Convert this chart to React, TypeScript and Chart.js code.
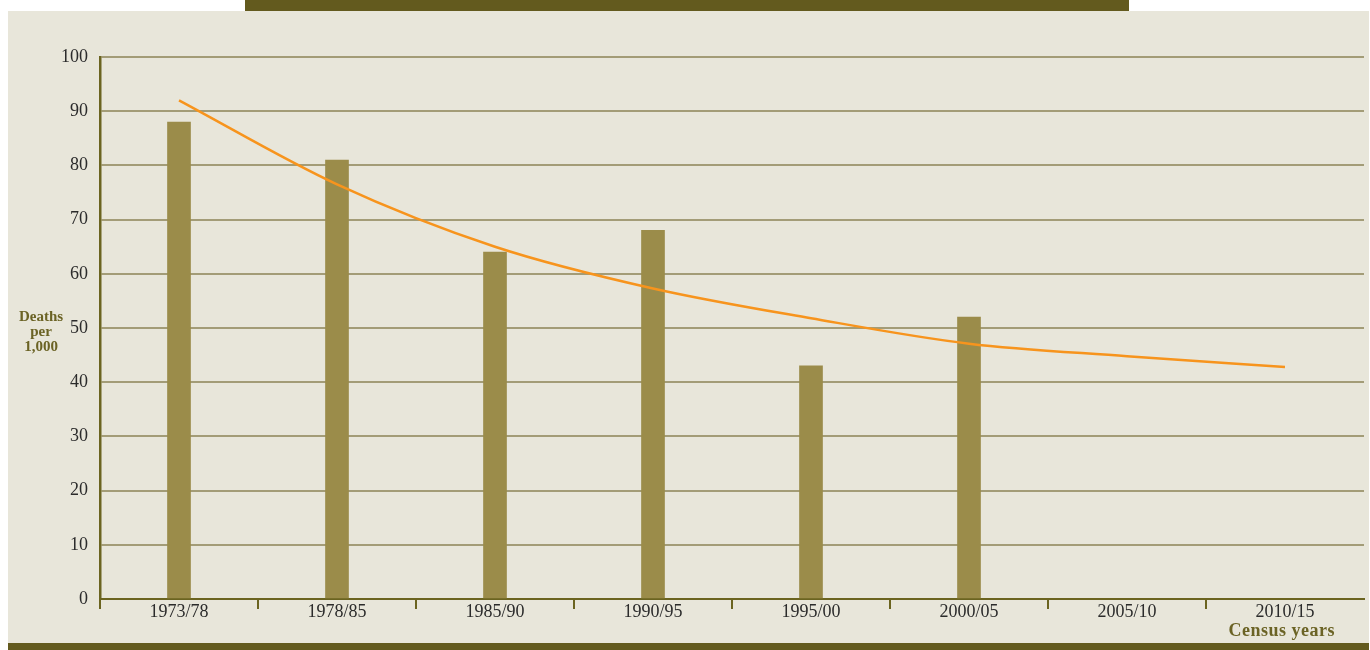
import React, { useEffect, useRef } from "react";
import { Chart, registerables } from "chart.js";

Chart.register(...registerables);

const categories = ["1973/78", "1978/85", "1985/90", "1990/95", "1995/00", "2000/05", "2005/10", "2010/15"];
const deathRates = [88, 81, 64, 68, 43, 52, null, null];
const trendValues = [92, 76.5, 65, 57.3, 51.8, 47.1, 44.8, 42.8];
const yMin = 0;
const yMax = 100;
const yStep = 10;

const OLIVE_DARK = "#635a1e";
const PANEL = "#e8e6da";
const BAR = "#9b8c4a";
const GRID = "#a39c77";
const AXIS = "#6b6420";
const ORANGE = "#f7941d";
const TEXT = "#2b2b2b";
const LABEL = "#6b6325";
const FONT = "'Liberation Serif', 'Times New Roman', serif";

export default function App() {
  const canvasRef = useRef<HTMLCanvasElement | null>(null);

  useEffect(() => {
    const canvas = canvasRef.current;
    if (!canvas) return;
    const chart = new Chart(canvas, {
      type: "bar",
      data: {
        labels: categories,
        datasets: [
          {
            type: "line",
            label: "Trend",
            data: trendValues,
            borderColor: ORANGE,
            borderWidth: 2.5,
            pointRadius: 0,
            fill: false,
            cubicInterpolationMode: "monotone",
            order: 0,
          } as any,
          {
            type: "bar",
            label: "Deaths per 1,000",
            data: deathRates,
            backgroundColor: BAR,
            barThickness: 23,
            order: 1,
          } as any,
        ],
      },
      options: {
        responsive: false,
        animation: false,
        layout: { padding: { left: 0, right: 6, top: 57, bottom: 0 } },
        plugins: {
          legend: { display: false },
          tooltip: { enabled: false },
          title: { display: false },
        },
        scales: {
          x: {
            offset: true,
            grid: {
              display: true,
              offset: true,
              drawOnChartArea: false,
              drawTicks: true,
              tickLength: 10,
              lineWidth: 2,
              color: (ctx: any) => (ctx.type === "tick" ? AXIS : "rgba(0,0,0,0)"),
            },
            border: { display: true, color: AXIS, width: 2 },
            ticks: {
              color: TEXT,
              font: { family: FONT, size: 18 },
              padding: -8,
              maxRotation: 0,
              autoSkip: false,
            },
            afterFit: (scale: any) => {
              scale.height = 51;
            },
          },
          y: {
            min: yMin,
            max: yMax,
            grid: {
              display: true,
              drawTicks: false,
              lineWidth: 2,
              color: GRID,
            },
            border: { display: true, color: AXIS, width: 2.5 },
            ticks: {
              stepSize: yStep,
              color: TEXT,
              font: { family: FONT, size: 18 },
              padding: 12,
            },
            afterFit: (scale: any) => {
              scale.width = 100;
            },
          },
        },
      },
    });
    return () => chart.destroy();
  }, []);

  return (
    <div
      style={{
        position: "fixed",
        left: 0,
        top: 0,
        width: 1370,
        height: 650,
        overflow: "hidden",
        background: "#ffffff",
      }}
    >
      <div style={{ position: "absolute", left: 245, top: 0, width: 884, height: 11, background: OLIVE_DARK }} />
      <div style={{ position: "absolute", left: 8, top: 11, width: 1361, height: 632, background: PANEL }} />
      <div style={{ position: "absolute", left: 8, top: 643, width: 1361, height: 7, background: OLIVE_DARK }} />
      <canvas
        ref={canvasRef}
        width={1370}
        height={650}
        style={{ position: "absolute", left: 0, top: 0, width: 1370, height: 650 }}
      />
      <div
        style={{
          position: "absolute",
          left: 8,
          top: 309,
          width: 66,
          textAlign: "center",
          fontFamily: FONT,
          fontWeight: "bold",
          fontSize: 15,
          lineHeight: "15px",
          color: LABEL,
        }}
      >
        Deaths
        <br />
        per
        <br />
        1,000
      </div>
      <div
        style={{
          position: "absolute",
          right: 35,
          top: 621,
          fontFamily: FONT,
          fontWeight: "bold",
          fontSize: 18,
          lineHeight: "18px",
          letterSpacing: "0.5px",
          color: LABEL,
          whiteSpace: "nowrap",
        }}
      >
        Census years
      </div>
    </div>
  );
}
